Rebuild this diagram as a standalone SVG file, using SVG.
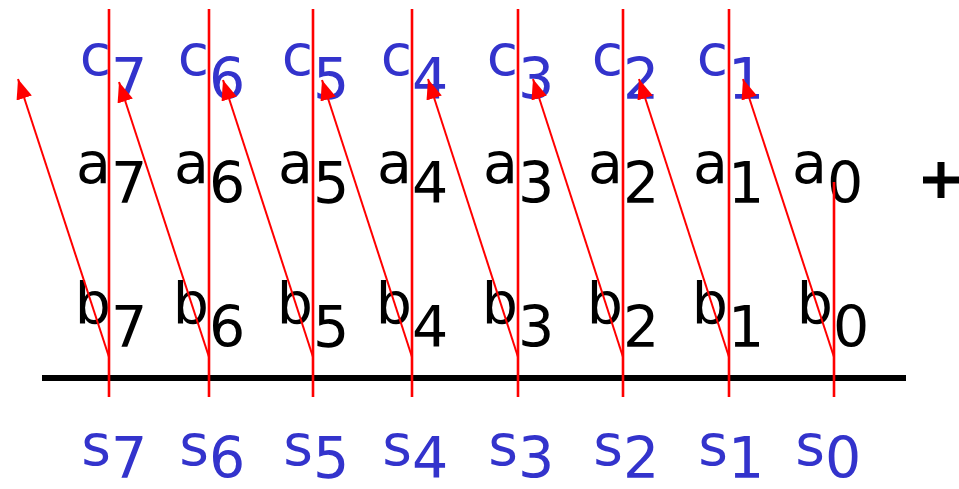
<svg xmlns="http://www.w3.org/2000/svg" width="959" height="489" viewBox="0 0 959 489">
<defs>
<style>
.l{font-family:"DejaVu Sans","Liberation Sans",sans-serif;font-size:57px;text-anchor:end}
.d{font-family:"DejaVu Sans","Liberation Sans",sans-serif;font-size:57px}
.blue{fill:#3333cc}
.blk{fill:#000}
.v{stroke:#ff0000;stroke-width:2.6;fill:none}
.dg{stroke:#ff0000;stroke-width:2;fill:none;marker-end:url(#ah)}
</style>
<marker id="ah" markerUnits="userSpaceOnUse" markerWidth="22" markerHeight="18" refX="20" refY="8" orient="auto" viewBox="0 0 22 18">
<path d="M0,0 L20,8 L0,16 Z" fill="#ff0000"/>
</marker>
</defs>
<rect width="959" height="489" fill="#fff"/>
<g id="base-line"><line x1="42" y1="378" x2="906" y2="378" stroke="#000" stroke-width="6"/></g>
<g id="plus"><path d="M923,180 H959 M941,162 V198" stroke="#000" stroke-width="7"/></g>
<g id="col7">
<text class="l blue" x="111" y="75">c</text><text class="d blue" x="111" y="99">7</text>
<text class="l blk" x="111" y="183">a</text><text class="d blk" x="111" y="203">7</text>
<text class="l blk" x="111" y="323">b</text><text class="d blk" x="111" y="347">7</text>
<text class="l blue" x="111" y="465">s</text><text class="d blue" x="111" y="478">7</text>
</g>
<g id="col6">
<text class="l blue" x="209" y="75">c</text><text class="d blue" x="209" y="99">6</text>
<text class="l blk" x="209" y="183">a</text><text class="d blk" x="209" y="203">6</text>
<text class="l blk" x="209" y="323">b</text><text class="d blk" x="209" y="347">6</text>
<text class="l blue" x="209" y="465">s</text><text class="d blue" x="209" y="478">6</text>
</g>
<g id="col5">
<text class="l blue" x="313" y="75">c</text><text class="d blue" x="313" y="99">5</text>
<text class="l blk" x="313" y="183">a</text><text class="d blk" x="313" y="203">5</text>
<text class="l blk" x="313" y="323">b</text><text class="d blk" x="313" y="347">5</text>
<text class="l blue" x="313" y="465">s</text><text class="d blue" x="313" y="478">5</text>
</g>
<g id="col4">
<text class="l blue" x="412" y="75">c</text><text class="d blue" x="412" y="99">4</text>
<text class="l blk" x="412" y="183">a</text><text class="d blk" x="412" y="203">4</text>
<text class="l blk" x="412" y="323">b</text><text class="d blk" x="412" y="347">4</text>
<text class="l blue" x="412" y="465">s</text><text class="d blue" x="412" y="478">4</text>
</g>
<g id="col3">
<text class="l blue" x="518" y="75">c</text><text class="d blue" x="518" y="99">3</text>
<text class="l blk" x="518" y="183">a</text><text class="d blk" x="518" y="203">3</text>
<text class="l blk" x="518" y="323">b</text><text class="d blk" x="518" y="347">3</text>
<text class="l blue" x="518" y="465">s</text><text class="d blue" x="518" y="478">3</text>
</g>
<g id="col2">
<text class="l blue" x="623" y="75">c</text><text class="d blue" x="623" y="99">2</text>
<text class="l blk" x="623" y="183">a</text><text class="d blk" x="623" y="203">2</text>
<text class="l blk" x="623" y="323">b</text><text class="d blk" x="623" y="347">2</text>
<text class="l blue" x="623" y="465">s</text><text class="d blue" x="623" y="478">2</text>
</g>
<g id="col1">
<text class="l blue" x="728" y="75">c</text><text class="d blue" x="728" y="99">1</text>
<text class="l blk" x="728" y="183">a</text><text class="d blk" x="728" y="203">1</text>
<text class="l blk" x="728" y="323">b</text><text class="d blk" x="728" y="347">1</text>
<text class="l blue" x="728" y="465">s</text><text class="d blue" x="728" y="478">1</text>
</g>
<g id="col0">
<text class="l blk" x="827" y="183">a</text><text class="d blk" x="827" y="203">0</text>
<text class="l blk" x="833" y="323">b</text><text class="d blk" x="833" y="347">0</text>
<text class="l blue" x="825" y="465">s</text><text class="d blue" x="825" y="478">0</text>
</g>
<g id="connectors">
<line class="v" x1="109" y1="9" x2="109" y2="397"/>
<line class="v" x1="209" y1="9" x2="209" y2="397"/>
<line class="v" x1="313" y1="9" x2="313" y2="397"/>
<line class="v" x1="412" y1="9" x2="412" y2="397"/>
<line class="v" x1="518" y1="9" x2="518" y2="397"/>
<line class="v" x1="623" y1="9" x2="623" y2="397"/>
<line class="v" x1="729" y1="9" x2="729" y2="397"/>
<line class="v" x1="834" y1="182" x2="834" y2="397"/>
<line class="dg" x1="109" y1="357" x2="18" y2="79"/>
<line class="dg" x1="209" y1="357" x2="119" y2="82"/>
<line class="dg" x1="313" y1="357" x2="223" y2="80"/>
<line class="dg" x1="412" y1="357" x2="322" y2="80"/>
<line class="dg" x1="518" y1="357" x2="428" y2="79"/>
<line class="dg" x1="623" y1="357" x2="533" y2="79"/>
<line class="dg" x1="729" y1="357" x2="639" y2="79"/>
<line class="dg" x1="834" y1="357" x2="743" y2="79"/>
</g>
</svg>
